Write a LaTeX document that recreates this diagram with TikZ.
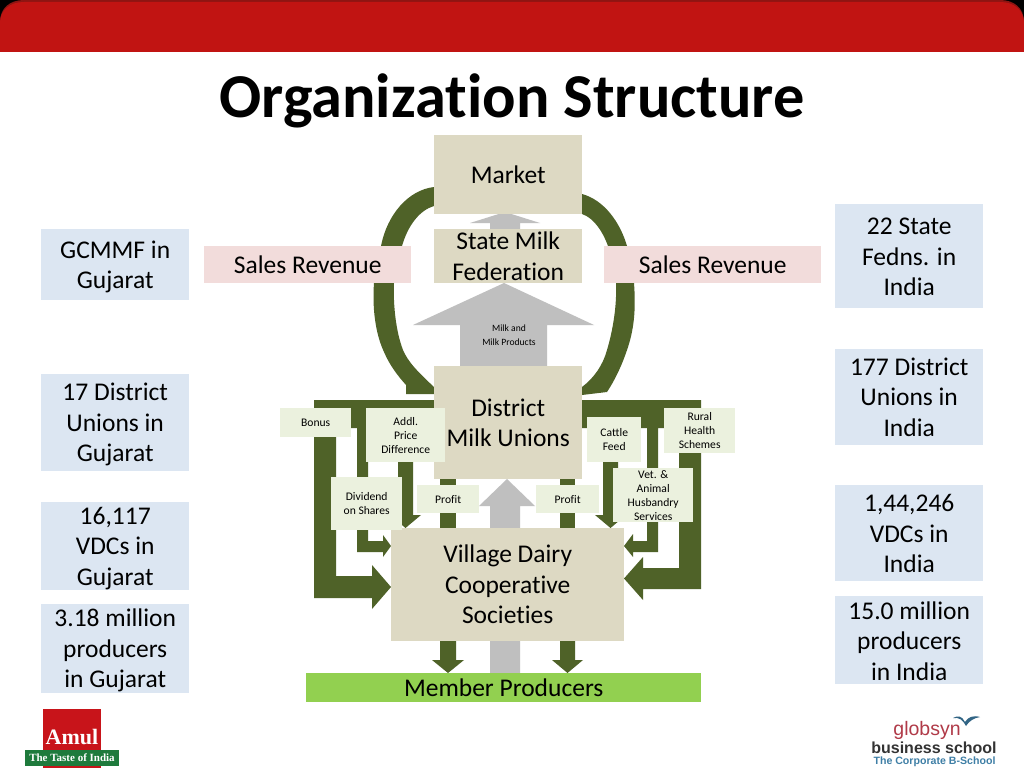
\documentclass[tikz,border=0pt]{standalone}
\usepackage{fontspec}
\setmainfont[Ligatures=NoCommon,RawFeature={-liga;-dlig;-clig}]{Carlito}
\newfontfamily\logoserif{Liberation Serif}
\newfontfamily\logosans{Liberation Sans}
\definecolor{band}{HTML}{C11412}
\definecolor{bandtop}{HTML}{8E1512}
\definecolor{leaf}{HTML}{4F6228}
\definecolor{tan}{HTML}{DDD9C3}
\definecolor{pale}{HTML}{EBF1DE}
\definecolor{sky}{HTML}{DCE6F2}
\definecolor{rose}{HTML}{F2DCDB}
\definecolor{lime}{HTML}{92D050}
\definecolor{ash}{HTML}{BFBFBF}
\definecolor{amulred}{HTML}{C8141A}
\definecolor{amulgreen}{HTML}{1E7A3C}
\definecolor{globred}{HTML}{B03A48}
\definecolor{globblue}{HTML}{3F7FA6}
\tikzset{
  sidebox/.style={minimum width=148pt,align=center,font=\fontsize{25.5}{30.5}\selectfont,inner sep=0pt},
  revbox/.style={fill=rose,align=center,font=\fontsize{25.5}{30}\selectfont,inner sep=0pt},
  mainbox/.style={fill=tan,align=center,font=\fontsize{25.5}{30.5}\selectfont,inner sep=0pt},
  smallbox/.style={fill=pale,align=center,font=\fontsize{11.6}{14}\selectfont,inner sep=0pt},
  flow/.style={fill=leaf,draw=none},
  goods/.style={fill=ash,draw=none}
}
\newcommand{\rectnode}[6]{\node[#1,minimum width=#4pt-#2pt,minimum height=#5pt-#3pt,anchor=north west] (#6) at (#2,#3)}
% side box: the fill stays on the box, the text sits #1 lower
\newcommand{\sidenode}[7]{\fill[sky] (#2,#3) rectangle (#4,#5);
  \node[sidebox,yshift=-#1pt,minimum height=#5pt-#3pt,anchor=north west] (#6) at (#2,#3) {#7};}
\begin{document}
\begin{tikzpicture}[x=1pt,y=-1pt]
\useasboundingbox (0,0) rectangle (1024,768);
\fill[white] (0,0) rectangle (1024,768);
% top band
\fill[black] (0,0) rectangle (1024,30);
\fill[bandtop] (0,52) -- (0,22) .. controls (0,8) and (10,0) .. (24,0) -- (1000,0) .. controls (1014,0) and (1024,8) .. (1024,22) -- (1024,52) -- cycle;
\fill[band] (0,52) -- (0,23) .. controls (0,10) and (10,2) .. (24,2) -- (1000,2) .. controls (1014,2) and (1024,10) .. (1024,23) -- (1024,52) -- cycle;
\node[font=\fontsize{62.4}{66}\selectfont\bfseries,anchor=center] (title) at (512,101) {Organization Structure};
% grey flows
\fill[goods] (490,229) -- (490,223) -- (470,223) -- (505,212) -- (540,223) -- (520,223) -- (520,229) -- cycle;
\fill[goods] (460,366) -- (460,325) -- (413,325) -- (504,283) -- (594,325) -- (547,325) -- (547,366) -- cycle;
\fill[goods] (490,673) -- (490,506) -- (479,506) -- (507,479) -- (535,506) -- (520,506) -- (520,673) -- cycle;
% revenue loops
\fill[flow] (434,187) .. controls (408,190) and (387,215) .. (381,246) -- (378,262) -- (374,283) .. controls (372,310) and (376,335) .. (384,352) .. controls (390,366) and (398,376) .. (406,385) -- (406,394) -- (434,394) -- (434,387) .. controls (418,372) and (408,362) .. (403,350) .. controls (396,332) and (393,305) .. (394,283) -- (398,262) -- (402,246) .. controls (408,225) and (420,210) .. (434,206) -- cycle;
\fill[flow] (582,194) .. controls (604,200) and (620,222) .. (627,246) -- (631,262) -- (634,283) .. controls (636,310) and (634,330) .. (627,350) .. controls (622,365) and (615,380) .. (607,392) -- (582,395) -- (582,387) .. controls (594,378) and (603,365) .. (607,350) .. controls (613,330) and (617,305) .. (616,283) -- (612,262) -- (608,246) .. controls (603,232) and (594,218) .. (582,214) -- cycle;
% green frame, left side
\fill[flow] (314,400) -- (434,400) -- (434,428) -- (368,428) -- (368,541) -- (383,541) -- (383,535) -- (391,546) -- (383,557) -- (383,552) -- (357,552) -- (357,428) -- (336,428) -- (336,576) -- (372,576) -- (372,565) -- (391,587) -- (372,609) -- (372,598) -- (314,598) -- cycle;
\fill[flow] (398,420) -- (413,420) -- (413,515) -- (421,515) -- (405.5,528) -- (390,515) -- (398,515) -- cycle;
\fill[flow] (440,479) rectangle (456,528);
\fill[flow] (560,479) rectangle (575,528);
% green frame, right side
\fill[flow] (582,400) -- (701,400) -- (701,589) -- (643,589) -- (643,600) -- (624,578.5) -- (643,557) -- (643,568) -- (679,568) -- (679,428) -- (658,428) -- (658,552) -- (633,552) -- (633,557) -- (624,546) -- (633,534) -- (633,541) -- (647,541) -- (647,428) -- (582,428) -- cycle;
\fill[flow] (603,420) -- (618,420) -- (618,515) -- (626,515) -- (610.5,528) -- (595,515) -- (603,515) -- cycle;
% arrows to members
\fill[flow] (440,641) -- (456,641) -- (456,660) -- (464,660) -- (448,673) -- (432,660) -- (440,660) -- cycle;
\fill[flow] (560,641) -- (575,641) -- (575,660) -- (583,660) -- (567.5,673) -- (552,660) -- (560,660) -- cycle;
% main boxes
\rectnode{mainbox}{434}{135}{582}{214}{market} {Market};
\rectnode{mainbox}{434}{229}{582}{283}{state} {State Milk\\Federation};
\rectnode{mainbox}{434}{366}{582}{479}{district} {District\\Milk Unions};
\rectnode{mainbox}{391}{528}{624}{641}{village} {Village Dairy\\Cooperative\\Societies};
\rectnode{mainbox,fill=lime,font=\fontsize{25.5}{28}\selectfont}{306}{673}{701}{702}{members} {Member Producers};
\node[align=center,font=\fontsize{9.6}{14}\selectfont,inner sep=0pt] (milk) at (509,335.5) {Milk and\\Milk Products};
% revenue boxes
\rectnode{revbox}{204}{246}{411}{283}{revl} {Sales Revenue};
\rectnode{revbox}{604}{246}{821}{283}{revr} {Sales Revenue};
% small boxes
\rectnode{smallbox}{280}{408}{351}{437}{bonus} {Bonus};
\rectnode{smallbox}{366}{408}{445}{462}{addl} {Addl.\\Price\\Difference};
\rectnode{smallbox}{331}{477}{402}{530}{divid} {Dividend\\on Shares};
\rectnode{smallbox}{417}{485}{479}{513}{profl} {Profit};
\rectnode{smallbox}{536}{485}{599}{513}{profr} {Profit};
\rectnode{smallbox}{587}{417}{641}{462}{cattle} {Cattle\\Feed};
\rectnode{smallbox}{664}{408}{735}{453}{rural} {Rural\\Health\\Schemes};
\rectnode{smallbox}{613}{468}{693}{522}{vet} {Vet. \&\\Animal\\Husbandry\\Services};
% side boxes
\sidenode{2}{41}{229}{189}{300}{gcmmf}{GCMMF in\\Gujarat}
\sidenode{2}{41}{374}{189}{471}{dgu}{17 District\\Unions in\\Gujarat}
\sidenode{2}{41}{502}{189}{590}{vgu}{16,117\\VDCs in\\Gujarat}
\sidenode{2}{41}{604}{189}{693}{pgu}{3.18 million\\producers\\in Gujarat}
\sidenode{1}{835}{204}{983}{308}{sin}{22 State\\Fedns. in\\India}
\sidenode{0}{835}{349}{983}{445}{din}{177 District\\Unions in\\India}
\sidenode{0.6}{835}{485}{983}{581}{vin}{1,44,246\\VDCs in\\India}
\sidenode{0.6}{835}{596}{983}{684}{pin}{15.0 million\\producers\\in India}
% Amul logo
\fill[amulred] (43,709) rectangle (101,768);
\fill[amulgreen] (25,750) rectangle (119,766);
\node[font=\logoserif\bfseries\fontsize{22}{22}\selectfont,text=white,inner sep=0pt] (amul) at (72,737) {Amul};
\node[font=\logoserif\bfseries\fontsize{11}{11}\selectfont,text=white,inner sep=0pt] (taste) at (72,758) {The Taste of India};
% globsyn logo
\node[font=\logosans\fontsize{19.5}{21}\selectfont,text=globred,inner sep=0pt] (glob) at (927,730) {globsyn};
\node[font=\logosans\bfseries\fontsize{16}{16}\selectfont,text=black!80,inner sep=0pt] (bus) at (934,748) {business school};
\node[font=\logosans\bfseries\fontsize{10.6}{10}\selectfont,text=globblue,inner sep=0pt] (corp) at (934.5,762) {The Corporate B-School};
\fill[globblue!80!black] (953,718) .. controls (958,715) and (962,716) .. (965,722) .. controls (968,717) and (973,715) .. (980,717) .. controls (974,718) and (969,721) .. (966,726) .. controls (963,720) and (959,717) .. (953,718) -- cycle;
\end{tikzpicture}
\end{document}
